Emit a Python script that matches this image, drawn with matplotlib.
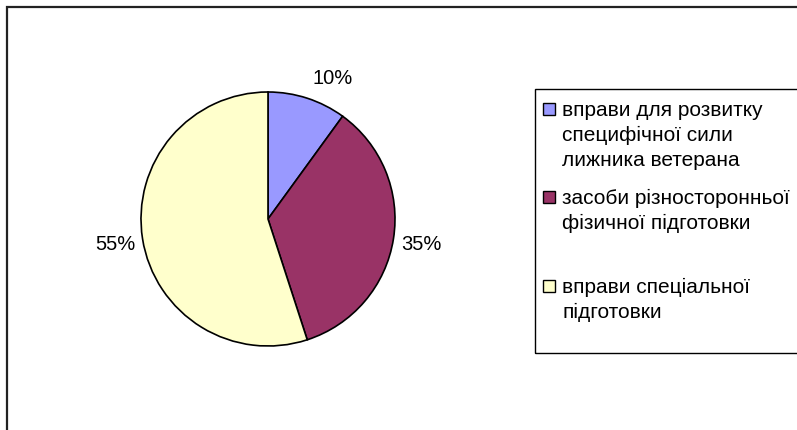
import matplotlib

matplotlib.use("Agg")
import matplotlib.pyplot as plt  # noqa: E402
from matplotlib.patches import Rectangle  # noqa: E402

labels = [
    "вправи для розвитку\nспецифічної сили\nлижника ветерана",
    "засоби різносторонньої\nфізичної підготовки",
    "вправи спеціальної\nпідготовки",
]
values = [10, 35, 55]
colors = ["#9999FF", "#993366", "#FFFFCC"]

W, H = 797, 431
plt.rcParams["font.family"] = ["Liberation Sans", "DejaVu Sans"]

fig = plt.figure(figsize=(W / 100, H / 100), dpi=100)


def fx(px):
    return px / W


def fy(py):
    return 1 - py / H


# outer chart frame (right and bottom edges run off the image)
fig.patches.append(Rectangle((fx(7), fy(440)), fx(800), (440 - 8) / H,
                             transform=fig.transFigure, fill=False,
                             edgecolor="#222222", linewidth=1.6))

cx, cy, r = 268, 220, 127
ax = fig.add_axes([fx(cx - r), fy(cy + r), 2 * r / W, 2 * r / H])
wedges, _, pcts = ax.pie(values, colors=colors, startangle=90, counterclock=False,
                         autopct="%1.0f%%", pctdistance=1.22,
                         wedgeprops=dict(edgecolor="black", linewidth=1.2),
                         textprops=dict(fontsize=14.5, color="black"))
ax.set_xlim(-1, 1)
ax.set_ylim(-1, 1)
ax.set_aspect("auto")
# Excel nudges the small-slice label a little to the right
x0, y0 = pcts[0].get_position()
pcts[0].set_position((x0 + 0.13, y0 - 0.05))

# legend box
fig.patches.append(Rectangle((fx(535), fy(354)), fx(300), (354 - 90) / H,
                             transform=fig.transFigure, fill=False,
                             edgecolor="black", linewidth=1.0))
entry_y = [110, 198, 287]
line_h = 25.5
for lab, col, ey in zip(labels, colors, entry_y):
    fig.patches.append(Rectangle((fx(543), fy(ey + 6)), fx(12), 12 / H,
                                 transform=fig.transFigure, facecolor=col,
                                 edgecolor="black", linewidth=1.0))
    for i, line in enumerate(lab.split("\n")):
        fig.text(fx(562), fy(ey + i * line_h), line, fontsize=15,
                 va="center", ha="left")

fig.savefig("out.png", dpi=100)
